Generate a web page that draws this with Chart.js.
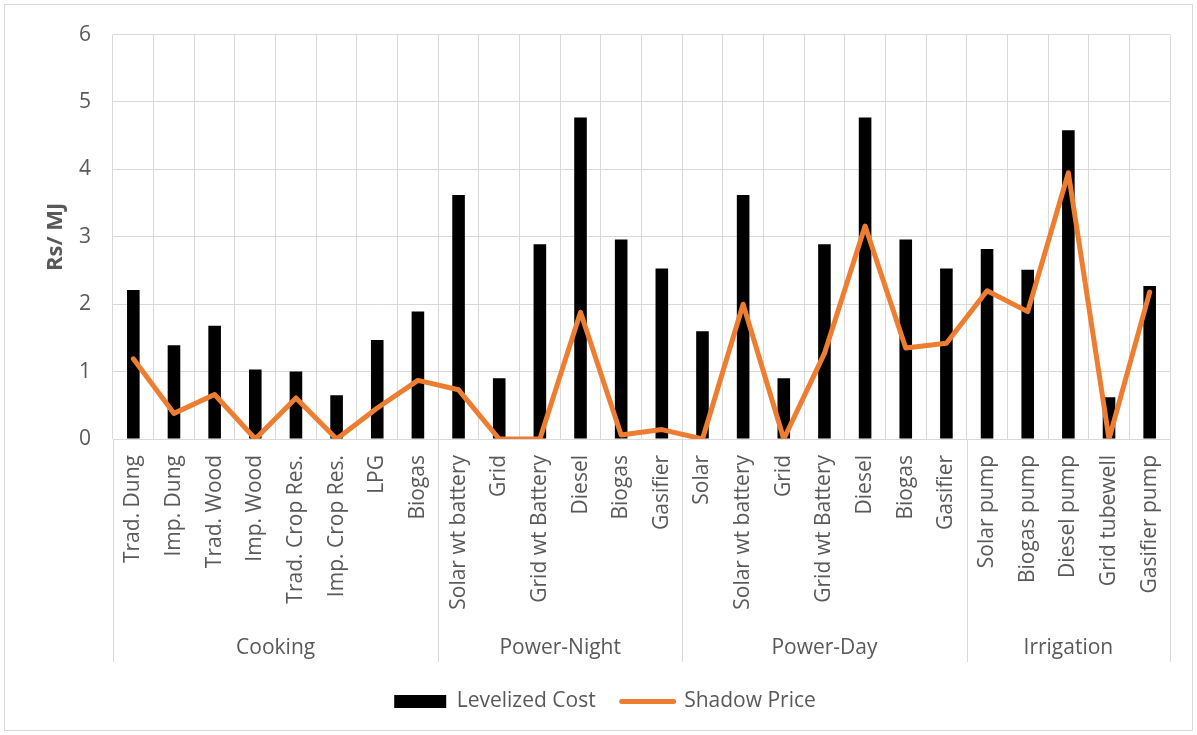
<!DOCTYPE html>
<html>
<head>
<meta charset="utf-8">
<script src="https://cdn.jsdelivr.net/npm/chart.js@4.4.1/dist/chart.umd.min.js"></script>
<style>
  html, body { margin: 0; padding: 0; background: #ffffff; }
  #wrap { width: 1197px; height: 735px; position: relative; }
</style>
</head>
<body>
<div id="wrap"><canvas id="chart" width="1197" height="735"></canvas></div>
<script>
// Technologies along the x axis, grouped by end use
const categories = [
  'Trad. Dung', 'Imp. Dung', 'Trad. Wood', 'Imp. Wood', 'Trad. Crop Res.', 'Imp. Crop Res.', 'LPG', 'Biogas',
  'Solar wt battery', 'Grid', 'Grid wt Battery', 'Diesel', 'Biogas', 'Gasifier',
  'Solar', 'Solar wt battery', 'Grid', 'Grid wt Battery', 'Diesel', 'Biogas', 'Gasifier',
  'Solar pump', 'Biogas pump', 'Diesel pump', 'Grid tubewell', 'Gasifier pump'
];
const groupNames = ['Cooking', 'Power-Night', 'Power-Day', 'Irrigation'];
const groupSizes = [8, 6, 7, 5];

// Rs per MJ
const levelizedCost = [
  2.21, 1.39, 1.68, 1.03, 1.00, 0.65, 1.47, 1.89,
  3.62, 0.90, 2.89, 4.77, 2.96, 2.53,
  1.60, 3.62, 0.90, 2.89, 4.77, 2.96, 2.53,
  2.82, 2.51, 4.58, 0.62, 2.27
];
const shadowPrice = [
  1.19, 0.38, 0.66, 0.00, 0.61, 0.00, 0.46, 0.87,
  0.73, 0.00, 0.00, 1.88, 0.06, 0.14,
  0.00, 2.00, 0.00, 1.27, 3.16, 1.35, 1.42,
  2.20, 1.89, 3.95, 0.00, 2.18
];
const yTicks = [0, 1, 2, 3, 4, 5, 6];

const TEXT = '#595959';
const GRID = '#d9d9d9';
const FONT = '"Open Sans", Lato, sans-serif';

// Outer frame, group separators and group names under the category labels
const groupAxisPlugin = {
  id: 'groupAxis',
  beforeDraw(chart) {
    const ctx = chart.ctx;
    ctx.save();
    ctx.fillStyle = '#ffffff';
    ctx.fillRect(0, 0, chart.width, chart.height);
    ctx.strokeStyle = GRID;
    ctx.lineWidth = 1;
    ctx.strokeRect(4.5, 4.5, chart.width - 9, chart.height - 9);
    ctx.restore();
  },
  afterDraw(chart) {
    const ctx = chart.ctx;
    const x = chart.scales.x;
    const area = chart.chartArea;
    const half = (x.getPixelForValue(1) - x.getPixelForValue(0)) / 2;
    const lineBottom = 662;
    ctx.save();
    ctx.strokeStyle = GRID;
    ctx.lineWidth = 1;
    let start = 0;
    const edges = [x.getPixelForValue(0) - half];
    groupSizes.forEach(n => {
      start += n;
      edges.push(x.getPixelForValue(start - 1) + half);
    });
    edges.forEach(px => {
      const p = Math.round(px) + 0.5;
      ctx.beginPath();
      ctx.moveTo(p, area.bottom);
      ctx.lineTo(p, lineBottom);
      ctx.stroke();
    });
    ctx.fillStyle = TEXT;
    ctx.font = '21px ' + FONT;
    ctx.textAlign = 'center';
    ctx.textBaseline = 'middle';
    groupNames.forEach((name, i) => {
      ctx.fillText(name, (edges[i] + edges[i + 1]) / 2, 648);
    });
    ctx.restore();
  }
};

new Chart(document.getElementById('chart'), {
  data: {
    labels: categories,
    datasets: [
      {
        type: 'bar',
        label: 'Levelized Cost',
        data: levelizedCost,
        backgroundColor: '#000000',
        borderWidth: 0,
        categoryPercentage: 1,
        barPercentage: 0.31,
        order: 2
      },
      {
        type: 'line',
        label: 'Shadow Price',
        data: shadowPrice,
        borderColor: '#ED7D31',
        backgroundColor: '#ED7D31',
        borderWidth: 5,
        borderJoinStyle: 'round',
        borderCapStyle: 'round',
        pointRadius: 0,
        tension: 0,
        order: 1
      }
    ]
  },
  options: {
    responsive: false,
    animation: false,
    layout: { padding: { top: 22, right: 27, bottom: 13, left: 40 } },
    plugins: {
      tooltip: { enabled: false },
      legend: {
        position: 'bottom',
        labels: {
          color: TEXT,
          font: { family: FONT, size: 21 },
          usePointStyle: true,
          pointStyleWidth: 52,
          boxHeight: 13,
          padding: 26,
          sort: (a, b) => a.datasetIndex - b.datasetIndex,
          generateLabels(chart) {
            const items = Chart.defaults.plugins.legend.labels.generateLabels(chart);
            items.forEach(it => {
              if (it.datasetIndex === 0) {
                it.pointStyle = 'rect';
                it.fillStyle = '#000000';
                it.strokeStyle = '#000000';
                it.lineWidth = 0;
              } else {
                it.pointStyle = 'line';
                it.strokeStyle = '#ED7D31';
                it.lineWidth = 5;
                it.lineCap = 'round';
              }
            });
            return items;
          }
        }
      }
    },
    scales: {
      x: {
        grid: { color: GRID, drawTicks: false, offset: true },
        border: { display: false },
        ticks: {
          color: TEXT,
          font: { family: FONT, size: 21 },
          maxRotation: 90,
          minRotation: 90,
          padding: 16,
          autoSkip: false
        },
        afterFit(scale) { scale.height = 226; }
      },
      y: {
        min: 0,
        max: 6,
        grid: { color: GRID, drawTicks: false },
        border: { display: false },
        afterBuildTicks(scale) { scale.ticks = yTicks.map(v => ({ value: v })); },
        ticks: {
          color: TEXT,
          font: { family: FONT, size: 21 },
          padding: 22
        },
        title: {
          display: true,
          text: 'Rs/ MJ',
          color: TEXT,
          font: { family: FONT, size: 22, weight: 'bold' },
          padding: { top: 3, bottom: 0 }
        },
        afterFit(scale) { scale.width = 73; }
      }
    }
  },
  plugins: [groupAxisPlugin]
});
</script>
</body>
</html>
